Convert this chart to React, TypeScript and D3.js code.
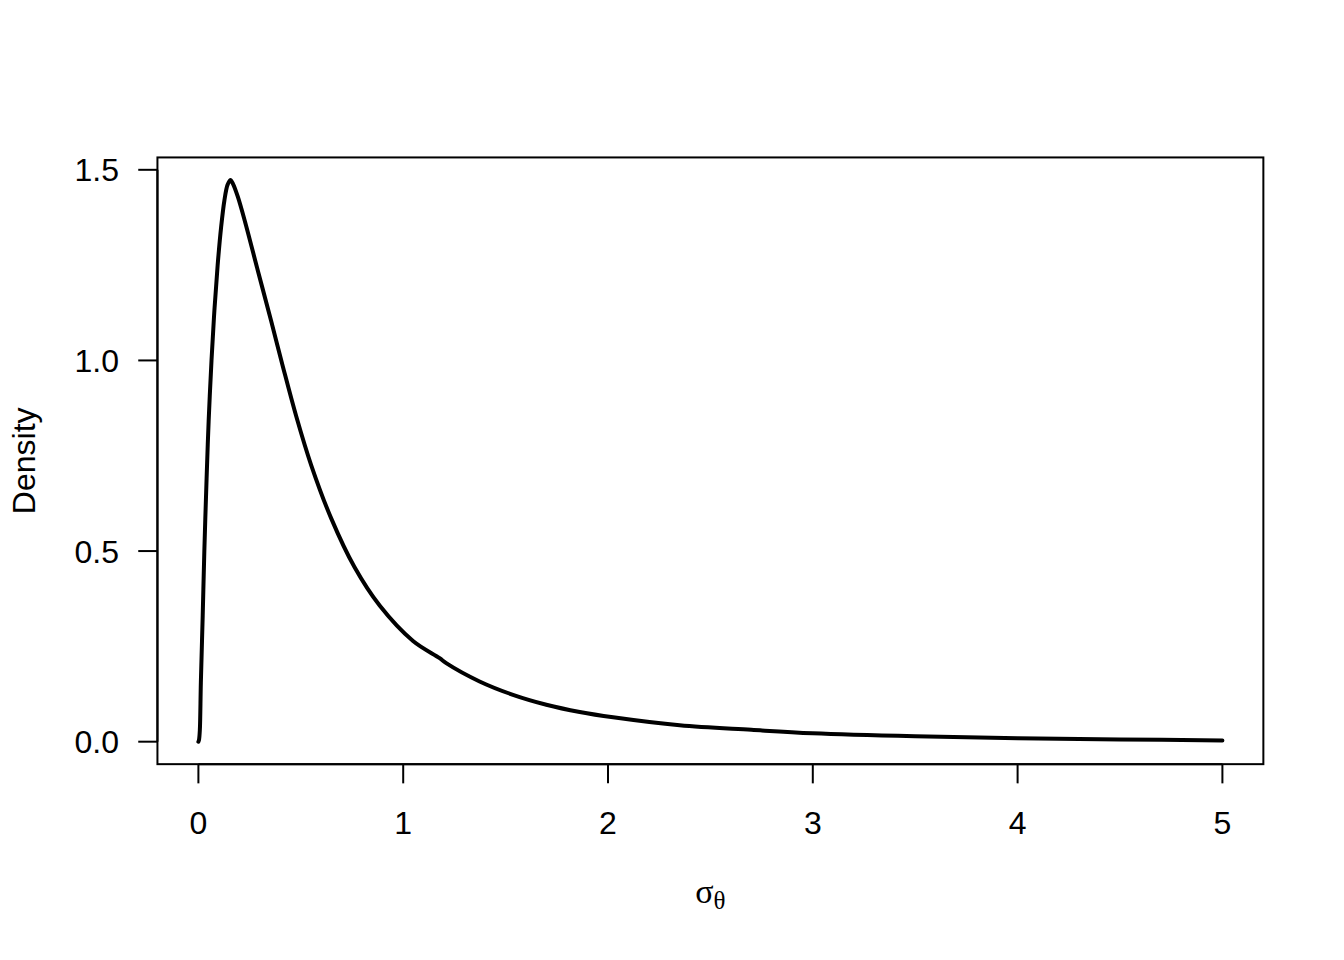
import React from "react";
import * as d3 from "d3";

const xValues = [0, 0.003, 0.007, 0.012, 0.021, 0.029, 0.04, 0.05, 0.064, 0.078, 0.094, 0.111, 0.127, 0.142, 0.156, 0.17, 0.192, 0.225, 0.29, 0.355, 0.412, 0.478, 0.551, 0.649, 0.762, 0.885, 1.048, 1.178, 1.21, 1.373, 1.536, 1.699, 1.862, 2.025, 2.35, 2.7, 3.0, 3.5, 4.0, 4.5, 5.0];
const densityValues = [0, 0.005, 0.03, 0.155, 0.33, 0.5, 0.69, 0.84, 1.0, 1.13, 1.25, 1.35, 1.42, 1.46, 1.4735, 1.462, 1.43, 1.369, 1.236, 1.104, 0.985, 0.853, 0.725, 0.585, 0.458, 0.357, 0.264, 0.219, 0.206, 0.158, 0.123, 0.097, 0.078, 0.064, 0.043, 0.031, 0.022, 0.014, 0.009, 0.006, 0.003];
const xTicks = [0, 1, 2, 3, 4, 5];
const yTicks = [0, 0.5, 1.0, 1.5];
const yLabel = "Density";

const W = 1344, H = 960;
const line = 38.4;
const margin = { left: 4.1 * line, right: 2.1 * line, top: 4.1 * line, bottom: 5.1 * line };

export default function App() {
  const x0 = margin.left, x1 = W - margin.right;
  const y0 = H - margin.bottom, y1 = margin.top;
  const xr = [0, 5];
  const yr = [0, d3.max(densityValues) as number];
  const xpad = (xr[1] - xr[0]) * 0.04;
  const ypad = (yr[1] - yr[0]) * 0.04;
  const x = d3.scaleLinear().domain([xr[0] - xpad, xr[1] + xpad]).range([x0, x1]);
  const y = d3.scaleLinear().domain([yr[0] - ypad, yr[1] + ypad]).range([y0, y1]);
  const pts = xValues.map((v, i) => [v, densityValues[i]] as [number, number]);
  const path = d3.line<[number, number]>().x(d => x(d[0])).y(d => y(d[1])).curve(d3.curveCatmullRom.alpha(0.5))(pts) || "";
  const tick = 19.2;
  const font = "'Liberation Sans', Arial, Helvetica, sans-serif";
  return (
    <svg width={W} height={H} style={{ display: "block", position: "absolute", left: 0, top: 0, background: "#fff" }}>
      <rect x={0} y={0} width={W} height={H} fill="#fff" />
      <path d={path} fill="none" stroke="#000" strokeWidth={4} strokeLinejoin="round" strokeLinecap="round" />
      <rect x={x0} y={y1} width={x1 - x0} height={y0 - y1} fill="none" stroke="#000" strokeWidth={2} />
      {/* x axis */}
      <line x1={x(xTicks[0])} x2={x(xTicks[xTicks.length - 1])} y1={y0} y2={y0} stroke="#000" strokeWidth={2} />
      {xTicks.map(t => (
        <g key={"x" + t}>
          <line x1={x(t)} x2={x(t)} y1={y0} y2={y0 + tick} stroke="#000" strokeWidth={2} />
          <text x={x(t)} y={834} textAnchor="middle" fontFamily={font} fontSize={32} fill="#000">{String(t)}</text>
        </g>
      ))}
      {/* y axis */}
      <line x1={x0} x2={x0} y1={y(yTicks[0])} y2={y(yTicks[yTicks.length - 1])} stroke="#000" strokeWidth={2} />
      {yTicks.map(t => (
        <g key={"y" + t}>
          <line x1={x0} x2={x0 - tick} y1={y(t)} y2={y(t)} stroke="#000" strokeWidth={2} />
          <text x={x0 - line} y={y(t)} dy="0.36em" textAnchor="end" fontFamily={font} fontSize={32} fill="#000">{t.toFixed(1)}</text>
        </g>
      ))}
      <text transform={`translate(35,${(y0 + y1) / 2}) rotate(-90)`} textAnchor="middle" fontFamily={font} fontSize={32} fill="#000">{yLabel}</text>
      <text x={(x0 + x1) / 2} y={903} textAnchor="middle" fontFamily="'Liberation Serif', 'Times New Roman', serif" fontSize={34} fill="#000">
        σ<tspan fontSize={25} dy={6}>θ</tspan>
      </text>
    </svg>
  );
}
